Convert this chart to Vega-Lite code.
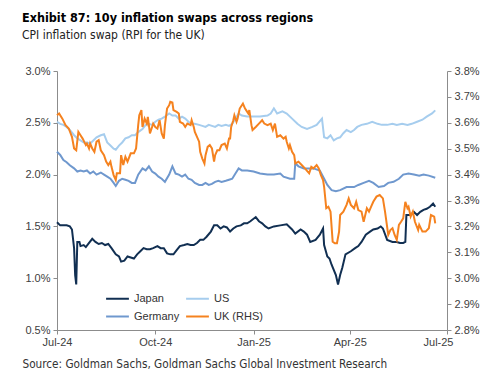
{
"$schema": "https://vega.github.io/schema/vega-lite/v6.json",
"width": 390, "height": 259,
"autosize": {"type": "none"},
"padding": {"left": 57, "top": 71, "right": 46, "bottom": 50},
"background": "white",
"config": {
  "view": {"stroke": null},
  "axis": {"grid": false, "domainColor": "#8c8c8c", "tickColor": "#8c8c8c", "tickSize": 4, "labelFont": "Liberation Sans", "labelFontSize": 11, "labelColor": "#404040", "labelPadding": 3}
},
"title": {
  "text": "Exhibit 87: 10y inflation swaps across regions",
  "subtitle": "CPI inflation swap (RPI for the UK)",
  "anchor": "start", "frame": "group", "dx": -35, "offset": 24,
  "font": "Liberation Sans Narrow, DejaVu Sans Condensed, Liberation Sans", "fontSize": 12.5, "fontWeight": "bold", "color": "#000000",
  "subtitleFont": "Liberation Sans Narrow, DejaVu Sans Condensed, Liberation Sans", "subtitleFontSize": 12, "subtitleColor": "#222222", "subtitlePadding": 6
},
"data": {"values": [
{"d":"2024-07-01","s":"Japan","v":1.54},{"d":"2024-07-04","s":"Japan","v":1.51},{"d":"2024-07-07","s":"Japan","v":1.51},{"d":"2024-07-10","s":"Japan","v":1.51},{"d":"2024-07-13","s":"Japan","v":1.50},{"d":"2024-07-15","s":"Japan","v":1.47},{"d":"2024-07-17","s":"Japan","v":1.29},{"d":"2024-07-18","s":"Japan","v":1.03},{"d":"2024-07-19","s":"Japan","v":0.94},{"d":"2024-07-20","s":"Japan","v":1.35},{"d":"2024-07-22","s":"Japan","v":1.35},{"d":"2024-07-23","s":"Japan","v":1.31},{"d":"2024-07-26","s":"Japan","v":1.32},{"d":"2024-07-28","s":"Japan","v":1.30},{"d":"2024-07-31","s":"Japan","v":1.34},{"d":"2024-08-03","s":"Japan","v":1.38},{"d":"2024-08-06","s":"Japan","v":1.35},{"d":"2024-08-09","s":"Japan","v":1.33},{"d":"2024-08-12","s":"Japan","v":1.34},{"d":"2024-08-15","s":"Japan","v":1.32},{"d":"2024-08-18","s":"Japan","v":1.33},{"d":"2024-08-21","s":"Japan","v":1.29},{"d":"2024-08-25","s":"Japan","v":1.23},{"d":"2024-08-28","s":"Japan","v":1.21},{"d":"2024-08-30","s":"Japan","v":1.16},{"d":"2024-09-02","s":"Japan","v":1.17},{"d":"2024-09-05","s":"Japan","v":1.21},{"d":"2024-09-08","s":"Japan","v":1.20},{"d":"2024-09-11","s":"Japan","v":1.19},{"d":"2024-09-14","s":"Japan","v":1.23},{"d":"2024-09-17","s":"Japan","v":1.26},{"d":"2024-09-20","s":"Japan","v":1.29},{"d":"2024-09-23","s":"Japan","v":1.28},{"d":"2024-09-26","s":"Japan","v":1.28},{"d":"2024-09-29","s":"Japan","v":1.29},{"d":"2024-10-03","s":"Japan","v":1.31},{"d":"2024-10-06","s":"Japan","v":1.29},{"d":"2024-10-09","s":"Japan","v":1.29},{"d":"2024-10-12","s":"Japan","v":1.24},{"d":"2024-10-15","s":"Japan","v":1.23},{"d":"2024-10-18","s":"Japan","v":1.23},{"d":"2024-10-21","s":"Japan","v":1.27},{"d":"2024-10-24","s":"Japan","v":1.31},{"d":"2024-10-28","s":"Japan","v":1.32},{"d":"2024-10-31","s":"Japan","v":1.33},{"d":"2024-11-03","s":"Japan","v":1.32},{"d":"2024-11-06","s":"Japan","v":1.32},{"d":"2024-11-09","s":"Japan","v":1.34},{"d":"2024-11-12","s":"Japan","v":1.37},{"d":"2024-11-15","s":"Japan","v":1.37},{"d":"2024-11-18","s":"Japan","v":1.40},{"d":"2024-11-22","s":"Japan","v":1.45},{"d":"2024-11-25","s":"Japan","v":1.51},{"d":"2024-11-28","s":"Japan","v":1.51},{"d":"2024-12-01","s":"Japan","v":1.48},{"d":"2024-12-04","s":"Japan","v":1.50},{"d":"2024-12-07","s":"Japan","v":1.49},{"d":"2024-12-10","s":"Japan","v":1.45},{"d":"2024-12-13","s":"Japan","v":1.48},{"d":"2024-12-16","s":"Japan","v":1.50},{"d":"2024-12-20","s":"Japan","v":1.51},{"d":"2024-12-23","s":"Japan","v":1.53},{"d":"2024-12-26","s":"Japan","v":1.53},{"d":"2024-12-29","s":"Japan","v":1.55},{"d":"2025-01-03","s":"Japan","v":1.59},{"d":"2025-01-06","s":"Japan","v":1.55},{"d":"2025-01-09","s":"Japan","v":1.53},{"d":"2025-01-12","s":"Japan","v":1.50},{"d":"2025-01-15","s":"Japan","v":1.48},{"d":"2025-01-20","s":"Japan","v":1.50},{"d":"2025-01-26","s":"Japan","v":1.51},{"d":"2025-02-01","s":"Japan","v":1.52},{"d":"2025-02-06","s":"Japan","v":1.47},{"d":"2025-02-09","s":"Japan","v":1.43},{"d":"2025-02-14","s":"Japan","v":1.47},{"d":"2025-02-17","s":"Japan","v":1.45},{"d":"2025-02-20","s":"Japan","v":1.42},{"d":"2025-02-23","s":"Japan","v":1.35},{"d":"2025-02-28","s":"Japan","v":1.37},{"d":"2025-03-04","s":"Japan","v":1.42},{"d":"2025-03-07","s":"Japan","v":1.48},{"d":"2025-03-08","s":"Japan","v":1.32},{"d":"2025-03-11","s":"Japan","v":1.21},{"d":"2025-03-13","s":"Japan","v":1.19},{"d":"2025-03-15","s":"Japan","v":1.13},{"d":"2025-03-19","s":"Japan","v":1.03},{"d":"2025-03-21","s":"Japan","v":0.94},{"d":"2025-03-23","s":"Japan","v":1.03},{"d":"2025-03-25","s":"Japan","v":1.10},{"d":"2025-03-28","s":"Japan","v":1.23},{"d":"2025-04-02","s":"Japan","v":1.26},{"d":"2025-04-06","s":"Japan","v":1.29},{"d":"2025-04-09","s":"Japan","v":1.31},{"d":"2025-04-12","s":"Japan","v":1.35},{"d":"2025-04-16","s":"Japan","v":1.42},{"d":"2025-04-20","s":"Japan","v":1.45},{"d":"2025-04-23","s":"Japan","v":1.47},{"d":"2025-04-27","s":"Japan","v":1.48},{"d":"2025-04-30","s":"Japan","v":1.50},{"d":"2025-05-02","s":"Japan","v":1.48},{"d":"2025-05-06","s":"Japan","v":1.37},{"d":"2025-05-11","s":"Japan","v":1.35},{"d":"2025-05-15","s":"Japan","v":1.35},{"d":"2025-05-18","s":"Japan","v":1.34},{"d":"2025-05-21","s":"Japan","v":1.34},{"d":"2025-05-23","s":"Japan","v":1.35},{"d":"2025-05-24","s":"Japan","v":1.61},{"d":"2025-05-28","s":"Japan","v":1.61},{"d":"2025-05-31","s":"Japan","v":1.64},{"d":"2025-06-03","s":"Japan","v":1.61},{"d":"2025-06-06","s":"Japan","v":1.64},{"d":"2025-06-09","s":"Japan","v":1.66},{"d":"2025-06-12","s":"Japan","v":1.67},{"d":"2025-06-15","s":"Japan","v":1.69},{"d":"2025-06-18","s":"Japan","v":1.72},{"d":"2025-06-20","s":"Japan","v":1.69},
{"d":"2024-07-01","s":"US","v":2.51},{"d":"2024-07-04","s":"US","v":2.49},{"d":"2024-07-07","s":"US","v":2.48},{"d":"2024-07-10","s":"US","v":2.46},{"d":"2024-07-13","s":"US","v":2.43},{"d":"2024-07-17","s":"US","v":2.38},{"d":"2024-07-20","s":"US","v":2.35},{"d":"2024-07-23","s":"US","v":2.33},{"d":"2024-07-26","s":"US","v":2.31},{"d":"2024-07-29","s":"US","v":2.31},{"d":"2024-08-01","s":"US","v":2.30},{"d":"2024-08-04","s":"US","v":2.33},{"d":"2024-08-07","s":"US","v":2.36},{"d":"2024-08-11","s":"US","v":2.38},{"d":"2024-08-14","s":"US","v":2.39},{"d":"2024-08-17","s":"US","v":2.31},{"d":"2024-08-20","s":"US","v":2.28},{"d":"2024-08-23","s":"US","v":2.25},{"d":"2024-08-25","s":"US","v":2.24},{"d":"2024-08-28","s":"US","v":2.28},{"d":"2024-08-31","s":"US","v":2.31},{"d":"2024-09-03","s":"US","v":2.35},{"d":"2024-09-06","s":"US","v":2.36},{"d":"2024-09-09","s":"US","v":2.38},{"d":"2024-09-12","s":"US","v":2.38},{"d":"2024-09-15","s":"US","v":2.41},{"d":"2024-09-19","s":"US","v":2.44},{"d":"2024-09-22","s":"US","v":2.48},{"d":"2024-09-25","s":"US","v":2.49},{"d":"2024-09-28","s":"US","v":2.48},{"d":"2024-10-01","s":"US","v":2.51},{"d":"2024-10-04","s":"US","v":2.53},{"d":"2024-10-07","s":"US","v":2.54},{"d":"2024-10-10","s":"US","v":2.56},{"d":"2024-10-14","s":"US","v":2.59},{"d":"2024-10-17","s":"US","v":2.57},{"d":"2024-10-20","s":"US","v":2.57},{"d":"2024-10-23","s":"US","v":2.54},{"d":"2024-10-26","s":"US","v":2.56},{"d":"2024-10-29","s":"US","v":2.54},{"d":"2024-11-01","s":"US","v":2.51},{"d":"2024-11-04","s":"US","v":2.49},{"d":"2024-11-07","s":"US","v":2.49},{"d":"2024-11-11","s":"US","v":2.48},{"d":"2024-11-14","s":"US","v":2.47},{"d":"2024-11-17","s":"US","v":2.46},{"d":"2024-11-20","s":"US","v":2.48},{"d":"2024-11-23","s":"US","v":2.47},{"d":"2024-11-26","s":"US","v":2.46},{"d":"2024-11-29","s":"US","v":2.48},{"d":"2024-12-02","s":"US","v":2.47},{"d":"2024-12-06","s":"US","v":2.48},{"d":"2024-12-09","s":"US","v":2.47},{"d":"2024-12-12","s":"US","v":2.49},{"d":"2024-12-15","s":"US","v":2.54},{"d":"2024-12-18","s":"US","v":2.59},{"d":"2024-12-21","s":"US","v":2.57},{"d":"2024-12-26","s":"US","v":2.56},{"d":"2025-01-01","s":"US","v":2.56},{"d":"2025-01-07","s":"US","v":2.56},{"d":"2025-01-14","s":"US","v":2.57},{"d":"2025-01-17","s":"US","v":2.59},{"d":"2025-01-20","s":"US","v":2.64},{"d":"2025-01-23","s":"US","v":2.59},{"d":"2025-01-28","s":"US","v":2.61},{"d":"2025-02-01","s":"US","v":2.59},{"d":"2025-02-06","s":"US","v":2.54},{"d":"2025-02-11","s":"US","v":2.49},{"d":"2025-02-15","s":"US","v":2.46},{"d":"2025-02-20","s":"US","v":2.44},{"d":"2025-02-25","s":"US","v":2.46},{"d":"2025-03-01","s":"US","v":2.48},{"d":"2025-03-06","s":"US","v":2.54},{"d":"2025-03-08","s":"US","v":2.36},{"d":"2025-03-11","s":"US","v":2.35},{"d":"2025-03-14","s":"US","v":2.38},{"d":"2025-03-17","s":"US","v":2.33},{"d":"2025-03-20","s":"US","v":2.35},{"d":"2025-03-23","s":"US","v":2.36},{"d":"2025-03-26","s":"US","v":2.40},{"d":"2025-03-29","s":"US","v":2.43},{"d":"2025-04-02","s":"US","v":2.41},{"d":"2025-04-05","s":"US","v":2.43},{"d":"2025-04-08","s":"US","v":2.46},{"d":"2025-04-12","s":"US","v":2.48},{"d":"2025-04-17","s":"US","v":2.49},{"d":"2025-04-22","s":"US","v":2.51},{"d":"2025-04-27","s":"US","v":2.49},{"d":"2025-05-01","s":"US","v":2.48},{"d":"2025-05-06","s":"US","v":2.48},{"d":"2025-05-11","s":"US","v":2.49},{"d":"2025-05-15","s":"US","v":2.48},{"d":"2025-05-20","s":"US","v":2.49},{"d":"2025-05-25","s":"US","v":2.48},{"d":"2025-05-29","s":"US","v":2.49},{"d":"2025-06-03","s":"US","v":2.51},{"d":"2025-06-08","s":"US","v":2.53},{"d":"2025-06-12","s":"US","v":2.56},{"d":"2025-06-17","s":"US","v":2.59},{"d":"2025-06-20","s":"US","v":2.62},
{"d":"2024-07-01","s":"Germany","v":2.22},{"d":"2024-07-04","s":"Germany","v":2.19},{"d":"2024-07-07","s":"Germany","v":2.14},{"d":"2024-07-10","s":"Germany","v":2.12},{"d":"2024-07-13","s":"Germany","v":2.09},{"d":"2024-07-17","s":"Germany","v":2.06},{"d":"2024-07-20","s":"Germany","v":2.03},{"d":"2024-07-23","s":"Germany","v":2.04},{"d":"2024-07-26","s":"Germany","v":2.03},{"d":"2024-07-29","s":"Germany","v":2.04},{"d":"2024-08-01","s":"Germany","v":2.01},{"d":"2024-08-04","s":"Germany","v":2.03},{"d":"2024-08-07","s":"Germany","v":2.00},{"d":"2024-08-11","s":"Germany","v":2.02},{"d":"2024-08-14","s":"Germany","v":2.00},{"d":"2024-08-17","s":"Germany","v":1.98},{"d":"2024-08-20","s":"Germany","v":1.96},{"d":"2024-08-23","s":"Germany","v":1.92},{"d":"2024-08-25","s":"Germany","v":1.89},{"d":"2024-08-28","s":"Germany","v":1.94},{"d":"2024-08-31","s":"Germany","v":1.96},{"d":"2024-09-03","s":"Germany","v":1.95},{"d":"2024-09-06","s":"Germany","v":1.94},{"d":"2024-09-09","s":"Germany","v":1.92},{"d":"2024-09-12","s":"Germany","v":1.92},{"d":"2024-09-15","s":"Germany","v":2.00},{"d":"2024-09-19","s":"Germany","v":2.06},{"d":"2024-09-22","s":"Germany","v":2.04},{"d":"2024-09-25","s":"Germany","v":2.08},{"d":"2024-09-28","s":"Germany","v":2.03},{"d":"2024-10-01","s":"Germany","v":2.01},{"d":"2024-10-04","s":"Germany","v":1.98},{"d":"2024-10-07","s":"Germany","v":1.96},{"d":"2024-10-10","s":"Germany","v":1.93},{"d":"2024-10-14","s":"Germany","v":2.00},{"d":"2024-10-17","s":"Germany","v":2.08},{"d":"2024-10-20","s":"Germany","v":2.01},{"d":"2024-10-23","s":"Germany","v":2.00},{"d":"2024-10-26","s":"Germany","v":1.98},{"d":"2024-10-29","s":"Germany","v":2.00},{"d":"2024-11-01","s":"Germany","v":1.96},{"d":"2024-11-04","s":"Germany","v":1.95},{"d":"2024-11-07","s":"Germany","v":1.92},{"d":"2024-11-11","s":"Germany","v":1.90},{"d":"2024-11-14","s":"Germany","v":1.90},{"d":"2024-11-17","s":"Germany","v":1.92},{"d":"2024-11-20","s":"Germany","v":1.90},{"d":"2024-11-23","s":"Germany","v":1.91},{"d":"2024-11-26","s":"Germany","v":1.93},{"d":"2024-11-29","s":"Germany","v":1.94},{"d":"2024-12-02","s":"Germany","v":1.93},{"d":"2024-12-06","s":"Germany","v":1.94},{"d":"2024-12-09","s":"Germany","v":1.95},{"d":"2024-12-12","s":"Germany","v":1.96},{"d":"2024-12-15","s":"Germany","v":2.01},{"d":"2024-12-18","s":"Germany","v":2.06},{"d":"2024-12-21","s":"Germany","v":2.04},{"d":"2024-12-26","s":"Germany","v":2.04},{"d":"2025-01-01","s":"Germany","v":2.03},{"d":"2025-01-07","s":"Germany","v":2.01},{"d":"2025-01-14","s":"Germany","v":2.00},{"d":"2025-01-20","s":"Germany","v":2.00},{"d":"2025-01-26","s":"Germany","v":2.01},{"d":"2025-01-29","s":"Germany","v":1.98},{"d":"2025-02-04","s":"Germany","v":1.96},{"d":"2025-02-08","s":"Germany","v":1.96},{"d":"2025-02-09","s":"Germany","v":2.11},{"d":"2025-02-12","s":"Germany","v":2.08},{"d":"2025-02-17","s":"Germany","v":2.06},{"d":"2025-02-22","s":"Germany","v":2.06},{"d":"2025-02-26","s":"Germany","v":2.06},{"d":"2025-03-04","s":"Germany","v":2.04},{"d":"2025-03-08","s":"Germany","v":1.96},{"d":"2025-03-11","s":"Germany","v":1.90},{"d":"2025-03-15","s":"Germany","v":1.85},{"d":"2025-03-19","s":"Germany","v":1.84},{"d":"2025-03-23","s":"Germany","v":1.85},{"d":"2025-03-29","s":"Germany","v":1.88},{"d":"2025-04-05","s":"Germany","v":1.88},{"d":"2025-04-09","s":"Germany","v":1.90},{"d":"2025-04-14","s":"Germany","v":1.92},{"d":"2025-04-19","s":"Germany","v":1.94},{"d":"2025-04-23","s":"Germany","v":1.92},{"d":"2025-04-28","s":"Germany","v":1.88},{"d":"2025-05-03","s":"Germany","v":1.89},{"d":"2025-05-07","s":"Germany","v":1.92},{"d":"2025-05-12","s":"Germany","v":1.93},{"d":"2025-05-17","s":"Germany","v":1.96},{"d":"2025-05-21","s":"Germany","v":2.00},{"d":"2025-05-26","s":"Germany","v":2.01},{"d":"2025-05-31","s":"Germany","v":2.00},{"d":"2025-06-05","s":"Germany","v":1.99},{"d":"2025-06-09","s":"Germany","v":2.00},{"d":"2025-06-14","s":"Germany","v":1.99},{"d":"2025-06-20","s":"Germany","v":1.97},
{"d":"2024-07-01","s":"UK (RHS)","v":3.629},{"d":"2024-07-03","s":"UK (RHS)","v":3.636},{"d":"2024-07-06","s":"UK (RHS)","v":3.616},{"d":"2024-07-09","s":"UK (RHS)","v":3.591},{"d":"2024-07-12","s":"UK (RHS)","v":3.578},{"d":"2024-07-15","s":"UK (RHS)","v":3.546},{"d":"2024-07-17","s":"UK (RHS)","v":3.501},{"d":"2024-07-19","s":"UK (RHS)","v":3.494},{"d":"2024-07-21","s":"UK (RHS)","v":3.565},{"d":"2024-07-23","s":"UK (RHS)","v":3.552},{"d":"2024-07-25","s":"UK (RHS)","v":3.539},{"d":"2024-07-28","s":"UK (RHS)","v":3.514},{"d":"2024-07-29","s":"UK (RHS)","v":3.520},{"d":"2024-07-31","s":"UK (RHS)","v":3.501},{"d":"2024-08-01","s":"UK (RHS)","v":3.520},{"d":"2024-08-03","s":"UK (RHS)","v":3.501},{"d":"2024-08-05","s":"UK (RHS)","v":3.488},{"d":"2024-08-07","s":"UK (RHS)","v":3.527},{"d":"2024-08-09","s":"UK (RHS)","v":3.533},{"d":"2024-08-11","s":"UK (RHS)","v":3.494},{"d":"2024-08-14","s":"UK (RHS)","v":3.475},{"d":"2024-08-16","s":"UK (RHS)","v":3.450},{"d":"2024-08-18","s":"UK (RHS)","v":3.437},{"d":"2024-08-20","s":"UK (RHS)","v":3.450},{"d":"2024-08-21","s":"UK (RHS)","v":3.430},{"d":"2024-08-23","s":"UK (RHS)","v":3.398},{"d":"2024-08-25","s":"UK (RHS)","v":3.379},{"d":"2024-08-26","s":"UK (RHS)","v":3.405},{"d":"2024-08-29","s":"UK (RHS)","v":3.405},{"d":"2024-08-30","s":"UK (RHS)","v":3.475},{"d":"2024-09-01","s":"UK (RHS)","v":3.437},{"d":"2024-09-03","s":"UK (RHS)","v":3.469},{"d":"2024-09-05","s":"UK (RHS)","v":3.450},{"d":"2024-09-08","s":"UK (RHS)","v":3.482},{"d":"2024-09-11","s":"UK (RHS)","v":3.482},{"d":"2024-09-13","s":"UK (RHS)","v":3.501},{"d":"2024-09-15","s":"UK (RHS)","v":3.591},{"d":"2024-09-16","s":"UK (RHS)","v":3.629},{"d":"2024-09-18","s":"UK (RHS)","v":3.649},{"d":"2024-09-19","s":"UK (RHS)","v":3.584},{"d":"2024-09-21","s":"UK (RHS)","v":3.616},{"d":"2024-09-23","s":"UK (RHS)","v":3.597},{"d":"2024-09-24","s":"UK (RHS)","v":3.623},{"d":"2024-09-26","s":"UK (RHS)","v":3.559},{"d":"2024-09-28","s":"UK (RHS)","v":3.584},{"d":"2024-09-29","s":"UK (RHS)","v":3.597},{"d":"2024-10-01","s":"UK (RHS)","v":3.584},{"d":"2024-10-03","s":"UK (RHS)","v":3.578},{"d":"2024-10-05","s":"UK (RHS)","v":3.610},{"d":"2024-10-07","s":"UK (RHS)","v":3.559},{"d":"2024-10-09","s":"UK (RHS)","v":3.539},{"d":"2024-10-10","s":"UK (RHS)","v":3.591},{"d":"2024-10-12","s":"UK (RHS)","v":3.655},{"d":"2024-10-14","s":"UK (RHS)","v":3.668},{"d":"2024-10-15","s":"UK (RHS)","v":3.681},{"d":"2024-10-17","s":"UK (RHS)","v":3.678},{"d":"2024-10-18","s":"UK (RHS)","v":3.649},{"d":"2024-10-21","s":"UK (RHS)","v":3.642},{"d":"2024-10-23","s":"UK (RHS)","v":3.636},{"d":"2024-10-24","s":"UK (RHS)","v":3.604},{"d":"2024-10-27","s":"UK (RHS)","v":3.597},{"d":"2024-10-29","s":"UK (RHS)","v":3.584},{"d":"2024-10-31","s":"UK (RHS)","v":3.597},{"d":"2024-11-03","s":"UK (RHS)","v":3.591},{"d":"2024-11-04","s":"UK (RHS)","v":3.610},{"d":"2024-11-06","s":"UK (RHS)","v":3.584},{"d":"2024-11-07","s":"UK (RHS)","v":3.565},{"d":"2024-11-11","s":"UK (RHS)","v":3.527},{"d":"2024-11-12","s":"UK (RHS)","v":3.488},{"d":"2024-11-14","s":"UK (RHS)","v":3.462},{"d":"2024-11-16","s":"UK (RHS)","v":3.443},{"d":"2024-11-17","s":"UK (RHS)","v":3.475},{"d":"2024-11-19","s":"UK (RHS)","v":3.507},{"d":"2024-11-21","s":"UK (RHS)","v":3.514},{"d":"2024-11-23","s":"UK (RHS)","v":3.501},{"d":"2024-11-25","s":"UK (RHS)","v":3.450},{"d":"2024-11-26","s":"UK (RHS)","v":3.475},{"d":"2024-11-28","s":"UK (RHS)","v":3.494},{"d":"2024-11-30","s":"UK (RHS)","v":3.494},{"d":"2024-12-02","s":"UK (RHS)","v":3.514},{"d":"2024-12-05","s":"UK (RHS)","v":3.520},{"d":"2024-12-07","s":"UK (RHS)","v":3.501},{"d":"2024-12-09","s":"UK (RHS)","v":3.539},{"d":"2024-12-10","s":"UK (RHS)","v":3.539},{"d":"2024-12-11","s":"UK (RHS)","v":3.584},{"d":"2024-12-13","s":"UK (RHS)","v":3.610},{"d":"2024-12-14","s":"UK (RHS)","v":3.629},{"d":"2024-12-16","s":"UK (RHS)","v":3.604},{"d":"2024-12-17","s":"UK (RHS)","v":3.616},{"d":"2024-12-19","s":"UK (RHS)","v":3.655},{"d":"2024-12-21","s":"UK (RHS)","v":3.668},{"d":"2024-12-22","s":"UK (RHS)","v":3.674},{"d":"2024-12-24","s":"UK (RHS)","v":3.655},{"d":"2024-12-25","s":"UK (RHS)","v":3.649},{"d":"2024-12-27","s":"UK (RHS)","v":3.636},{"d":"2024-12-28","s":"UK (RHS)","v":3.649},{"d":"2024-12-30","s":"UK (RHS)","v":3.591},{"d":"2024-12-31","s":"UK (RHS)","v":3.572},{"d":"2025-01-03","s":"UK (RHS)","v":3.584},{"d":"2025-01-06","s":"UK (RHS)","v":3.597},{"d":"2025-01-09","s":"UK (RHS)","v":3.610},{"d":"2025-01-11","s":"UK (RHS)","v":3.597},{"d":"2025-01-14","s":"UK (RHS)","v":3.591},{"d":"2025-01-17","s":"UK (RHS)","v":3.597},{"d":"2025-01-19","s":"UK (RHS)","v":3.572},{"d":"2025-01-21","s":"UK (RHS)","v":3.597},{"d":"2025-01-23","s":"UK (RHS)","v":3.546},{"d":"2025-01-26","s":"UK (RHS)","v":3.552},{"d":"2025-01-29","s":"UK (RHS)","v":3.539},{"d":"2025-01-31","s":"UK (RHS)","v":3.546},{"d":"2025-02-01","s":"UK (RHS)","v":3.527},{"d":"2025-02-03","s":"UK (RHS)","v":3.501},{"d":"2025-02-04","s":"UK (RHS)","v":3.514},{"d":"2025-02-06","s":"UK (RHS)","v":3.488},{"d":"2025-02-08","s":"UK (RHS)","v":3.475},{"d":"2025-02-09","s":"UK (RHS)","v":3.443},{"d":"2025-02-12","s":"UK (RHS)","v":3.450},{"d":"2025-02-15","s":"UK (RHS)","v":3.437},{"d":"2025-02-18","s":"UK (RHS)","v":3.424},{"d":"2025-02-22","s":"UK (RHS)","v":3.405},{"d":"2025-02-24","s":"UK (RHS)","v":3.430},{"d":"2025-02-26","s":"UK (RHS)","v":3.424},{"d":"2025-03-01","s":"UK (RHS)","v":3.437},{"d":"2025-03-03","s":"UK (RHS)","v":3.424},{"d":"2025-03-05","s":"UK (RHS)","v":3.398},{"d":"2025-03-07","s":"UK (RHS)","v":3.379},{"d":"2025-03-08","s":"UK (RHS)","v":3.353},{"d":"2025-03-10","s":"UK (RHS)","v":3.270},{"d":"2025-03-12","s":"UK (RHS)","v":3.276},{"d":"2025-03-14","s":"UK (RHS)","v":3.257},{"d":"2025-03-16","s":"UK (RHS)","v":3.141},{"d":"2025-03-18","s":"UK (RHS)","v":3.135},{"d":"2025-03-20","s":"UK (RHS)","v":3.135},{"d":"2025-03-22","s":"UK (RHS)","v":3.180},{"d":"2025-03-23","s":"UK (RHS)","v":3.244},{"d":"2025-03-26","s":"UK (RHS)","v":3.257},{"d":"2025-03-29","s":"UK (RHS)","v":3.283},{"d":"2025-03-31","s":"UK (RHS)","v":3.308},{"d":"2025-04-02","s":"UK (RHS)","v":3.283},{"d":"2025-04-05","s":"UK (RHS)","v":3.270},{"d":"2025-04-07","s":"UK (RHS)","v":3.295},{"d":"2025-04-09","s":"UK (RHS)","v":3.263},{"d":"2025-04-12","s":"UK (RHS)","v":3.257},{"d":"2025-04-14","s":"UK (RHS)","v":3.218},{"d":"2025-04-17","s":"UK (RHS)","v":3.270},{"d":"2025-04-19","s":"UK (RHS)","v":3.257},{"d":"2025-04-21","s":"UK (RHS)","v":3.276},{"d":"2025-04-23","s":"UK (RHS)","v":3.295},{"d":"2025-04-26","s":"UK (RHS)","v":3.315},{"d":"2025-04-29","s":"UK (RHS)","v":3.321},{"d":"2025-05-02","s":"UK (RHS)","v":3.308},{"d":"2025-05-04","s":"UK (RHS)","v":3.257},{"d":"2025-05-07","s":"UK (RHS)","v":3.167},{"d":"2025-05-09","s":"UK (RHS)","v":3.186},{"d":"2025-05-11","s":"UK (RHS)","v":3.193},{"d":"2025-05-13","s":"UK (RHS)","v":3.167},{"d":"2025-05-15","s":"UK (RHS)","v":3.148},{"d":"2025-05-17","s":"UK (RHS)","v":3.206},{"d":"2025-05-19","s":"UK (RHS)","v":3.218},{"d":"2025-05-21","s":"UK (RHS)","v":3.231},{"d":"2025-05-23","s":"UK (RHS)","v":3.295},{"d":"2025-05-25","s":"UK (RHS)","v":3.270},{"d":"2025-05-26","s":"UK (RHS)","v":3.276},{"d":"2025-05-28","s":"UK (RHS)","v":3.238},{"d":"2025-05-30","s":"UK (RHS)","v":3.257},{"d":"2025-06-01","s":"UK (RHS)","v":3.218},{"d":"2025-06-04","s":"UK (RHS)","v":3.186},{"d":"2025-06-05","s":"UK (RHS)","v":3.206},{"d":"2025-06-08","s":"UK (RHS)","v":3.180},{"d":"2025-06-11","s":"UK (RHS)","v":3.180},{"d":"2025-06-14","s":"UK (RHS)","v":3.193},{"d":"2025-06-16","s":"UK (RHS)","v":3.244},{"d":"2025-06-19","s":"UK (RHS)","v":3.238},{"d":"2025-06-20","s":"UK (RHS)","v":3.212}
]},
"encoding": {
  "x": {"field": "d", "type": "temporal",
    "scale": {"type": "utc", "domain": [{"year": 2024, "month": 7, "date": 1, "utc": true}, {"year": 2025, "month": 7, "date": 1, "utc": true}]},
    "axis": {"values": [{"year": 2024, "month": 7, "date": 1, "utc": true}, {"year": 2024, "month": 10, "date": 1, "utc": true}, {"year": 2025, "month": 1, "date": 1, "utc": true}, {"year": 2025, "month": 4, "date": 1, "utc": true}, {"year": 2025, "month": 7, "date": 1, "utc": true}],
      "format": "%b-%y", "labelPadding": 2, "labelFlush": false,
      "labelOffset": {"condition": {"test": "datum.value > 1750000000000", "value": -9}, "value": 0},
      "title": "Source: Goldman Sachs, Goldman Sachs Global Investment Research",
      "titleX": -35, "titleY": 37, "titleAlign": "left", "titleBaseline": "alphabetic", "titleAnchor": "start",
      "titleFont": "Liberation Sans Narrow, DejaVu Sans Condensed, Liberation Sans", "titleFontSize": 11.7, "titleFontWeight": "normal", "titleColor": "#333333"}},
  "color": {"field": "s", "type": "nominal",
    "scale": {"domain": ["Japan", "US", "Germany", "UK (RHS)"], "range": ["#112f52", "#a6cdee", "#6f98ce", "#f5821f"]},
    "legend": {"orient": "none", "direction": "horizontal", "legendX": 48, "legendY": 215, "columns": 2, "title": null, "symbolType": "stroke", "symbolSize": 520, "symbolStrokeWidth": 2, "labelFont": "Liberation Sans", "labelFontSize": 11, "labelColor": "#333333", "columnPadding": 2, "rowPadding": -6, "labelOffset": 4, "padding": 0}}
},
"layer": [
  {"transform": [{"filter": "datum.s !== 'UK (RHS)'"}],
   "mark": {"type": "line", "strokeWidth": 2},
   "encoding": {"y": {"field": "v", "type": "quantitative", "scale": {"domain": [0.5, 3.0], "zero": false, "nice": false},
     "axis": {"orient": "left", "title": null, "values": [0.5, 1.0, 1.5, 2.0, 2.5, 3.0], "labelExpr": "format(datum.value, '.1f') + '%'"}}}},
  {"transform": [{"filter": "datum.s === 'UK (RHS)'"}],
   "mark": {"type": "line", "strokeWidth": 2},
   "encoding": {"y": {"field": "v", "type": "quantitative", "scale": {"domain": [2.8, 3.8], "zero": false, "nice": false},
     "axis": {"orient": "right", "title": null, "values": [2.8, 2.9, 3.0, 3.1, 3.2, 3.3, 3.4, 3.5, 3.6, 3.7, 3.8], "labelExpr": "format(datum.value, '.1f') + '%'"}}}}
],
"resolve": {"scale": {"y": "independent"}}
}
